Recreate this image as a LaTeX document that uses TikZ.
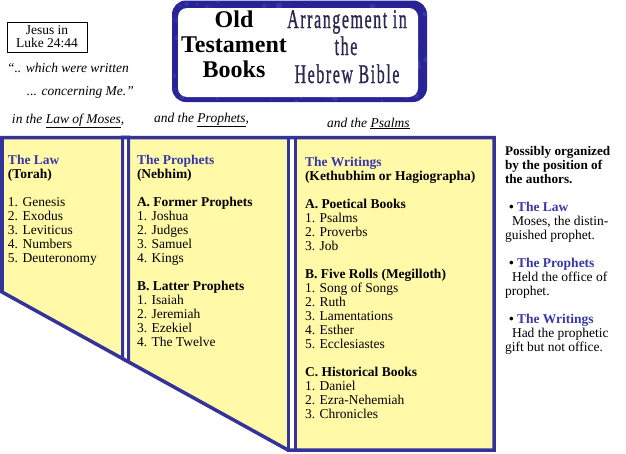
\documentclass[tikz,border=0pt]{standalone}
\usepackage{fontspec}
\usepackage{graphicx}
\setmainfont{Liberation Serif}
\newfontfamily\condfont[LetterSpace=10,FakeBold=1.2]{Liberation Serif}
\definecolor{bl}{RGB}{51,51,153}
\definecolor{tb}{RGB}{40,36,150}
\definecolor{tb2}{RGB}{85,85,200}
\definecolor{hdr}{RGB}{56,56,168}
\definecolor{yel}{RGB}{255,249,168}
\definecolor{navy}{RGB}{40,40,80}
\begin{document}
\begin{tikzpicture}[x=1pt,y=-1pt,
  every node/.style={inner sep=0pt,outer sep=0pt},
  col/.style={anchor=base west,font=\fontsize{13.5}{14}\selectfont},
  lefttxt/.style={anchor=base west,font=\fontsize{13.5}{14}\selectfont\itshape},
  ttl/.style={anchor=base,font=\fontsize{24}{25}\selectfont\bfseries},
  arr/.style={anchor=base,text=navy},
  sepbar/.style={draw=bl,line width=3,fill=white},
  outline/.style={draw=bl,line width=3.5,line join=miter}]
\useasboundingbox (0,0) rectangle (626,453);
% title box
\fill[tb,rounded corners=14] (172,0.5) rectangle (427,102);
\begin{scope}
\clip[rounded corners=14] (172,0.5) rectangle (427,102);
\pgfmathsetseed{7}
\foreach \k in {1,...,160}{\fill[tb2,opacity=0.35] ({172+255*rnd},{102*rnd}) circle ({0.8+2.5*rnd});}
\end{scope}
\fill[white,rounded corners=9] (178,8) rectangle (418,97);
\node[ttl] (old) at (234,27) {Old};
\node[ttl] (test) at (234,52) {Testament};
\node[ttl] (books) at (234,77) {Books};
\node[arr] (arr1) at (347,28) {\scalebox{0.59}[1]{\fontsize{27}{27}\condfont Arrangement in}};
\node[arr] (arr2) at (346,55) {\scalebox{0.59}[1]{\fontsize{27}{27}\condfont the}};
\node[arr] (arr3) at (347,83) {\scalebox{0.59}[1]{\fontsize{27}{27}\condfont Hebrew Bible}};
% left texts
\node[draw,line width=0.8,minimum width=80,minimum height=30,align=center,
  font=\fontsize{13.5}{13}\selectfont] (luke) at (47,37) {Jesus in\\Luke 24:44};
\node[lefttxt] (q1) at (7,72) {“.. which were written};
\node[lefttxt] (q2) at (27,95) {... concerning Me.”};
\node[lefttxt] (q3) at (12,123) {in the \underline{Law of Moses},};
\node[lefttxt] (q4) at (154,122) {and the \underline{Prophets},};
\node[lefttxt] (q5) at (327,127) {and the \underline{Psalms}};
% panels
\fill[yel] (2,137) -- (494,137) -- (494,450) -- (288,450) -- (2,292) -- cycle;
\draw[sepbar] (122.5,137) -- (128.5,137) -- (128.5,361.9) -- (122.5,358.6) -- cycle;
\draw[sepbar] (288.5,137) -- (295,137) -- (295,450) -- (288.5,450) -- cycle;
\draw[outline] (2,292) -- (2,137.5) -- (494,137.5) -- (494,450) -- (288,450) -- cycle;
% Law
\foreach \t [count=\i from 0] in {{\textbf{\color{hdr}The Law}},{\textbf{(Torah)}},{},
  {1. Genesis},{2. Exodus},{3. Leviticus},{4. Numbers},{5. Deuteronomy}}
  {\node[col,name=law-\i] at (8,{164+14*\i}) {\t};}
% Prophets
\foreach \t [count=\i from 0] in {{\textbf{\color{hdr}The Prophets}},{\textbf{(Nebhim)}},{},
  {\textbf{A. Former Prophets}},{1. Joshua},{2. Judges},{3. Samuel},{4. Kings},{},
  {\textbf{B. Latter Prophets}},{1. Isaiah},{2. Jeremiah},{3. Ezekiel},{4. The Twelve}}
  {\node[col,name=pro-\i] at (137,{164+14*\i}) {\t};}
% Writings
\foreach \t [count=\i from 0] in {{\textbf{\color{hdr}The Writings}},{\textbf{(Kethubhim or Hagiographa)}},{},
  {\textbf{A. Poetical Books}},{1. Psalms},{2. Proverbs},{3. Job},{},
  {\textbf{B. Five Rolls (Megilloth)}},{1. Song of Songs},{2. Ruth},{3. Lamentations},{4. Esther},{5. Ecclesiastes},{},
  {\textbf{C. Historical Books}},{1. Daniel},{2. Ezra-Nehemiah},{3. Chronicles}}
  {\node[col,name=wri-\i] at (305,{166+14*\i}) {\t};}
% right column
\node[col,font=\fontsize{13.2}{14}\selectfont\bfseries] (r1) at (505,155) {Possibly organized};
\node[col,font=\fontsize{13.2}{14}\selectfont\bfseries] (r2) at (505,169) {by the position of};
\node[col,font=\fontsize{13.2}{14}\selectfont\bfseries] (r3) at (505,183) {the authors.};
\node[col] (r4) at (509,211) {\textbf{\textbullet\ \color{hdr}The Law}};
\node[col] (r5) at (512,225) {Moses, the distin-};
\node[col] (r6) at (505,239) {guished prophet.};
\node[col] (r7) at (509,267) {\textbf{\textbullet\ \color{hdr}The Prophets}};
\node[col] (r8) at (512,281) {Held the office of};
\node[col] (r9) at (505,295) {prophet.};
\node[col] (r10) at (509,323) {\textbf{\textbullet\ \color{hdr}The Writings}};
\node[col] (r11) at (512,337) {Had the prophetic};
\node[col] (r12) at (505,351) {gift but not office.};
\end{tikzpicture}
\end{document}
